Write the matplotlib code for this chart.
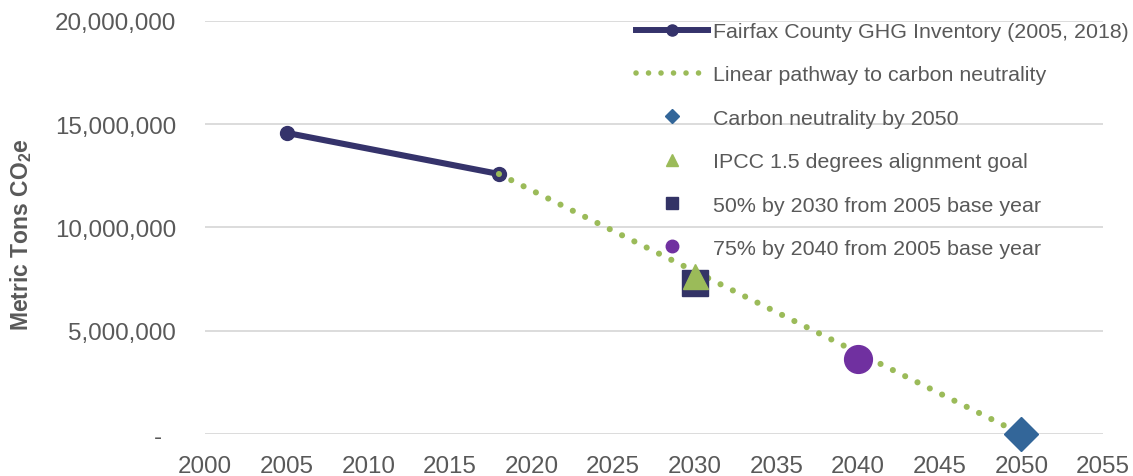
import matplotlib
matplotlib.use("Agg")
import matplotlib.pyplot as plt
from matplotlib.lines import Line2D
from matplotlib.ticker import FuncFormatter

plt.rcParams['font.family'] = ['Liberation Sans', 'DejaVu Sans']

# Data
inv_years = [2005, 2018]
inv_values = [14580000, 12590000]
path_years = [2018, 2050]
path_values = [12590000, 0]
neutral_year = [2050]
neutral_value = [0]
ipcc_year = [2030]
ipcc_value = [7650000]
half_year = [2030]
half_value = [7290000]
q_year = [2040]
q_value = [3645000]

labels = ["Fairfax County GHG Inventory (2005, 2018)",
          "Linear pathway to carbon neutrality",
          "Carbon neutrality by 2050",
          "IPCC 1.5 degrees alignment goal",
          "50% by 2030 from 2005 base year",
          "75% by 2040 from 2005 base year"]

NAVY = '#35336B'
GREEN = '#9BBB59'
BLUE = '#336699'
PURPLE = '#7030A0'
SQ = '#333366'
TXT = '#595959'

fig = plt.figure(figsize=(11.33, 4.77), dpi=100)
ax = fig.add_axes([0.181, 0.088, 0.9735 - 0.181, 0.954 - 0.088])

for s in ax.spines.values():
    s.set_visible(False)
ax.set_xlim(2000, 2055)
ax.set_ylim(0, 20000000)
ax.set_xticks(range(2000, 2056, 5))
ax.set_yticks(range(0, 20000001, 5000000))
ax.yaxis.set_major_formatter(FuncFormatter(lambda v, p: '-  ' if v == 0 else f'{int(v):,}'))
ax.grid(axis='y', color='#D9D9D9', linewidth=1.3)
ax.set_axisbelow(True)
ax.tick_params(length=0, labelsize=17.4, colors=TXT)
ax.tick_params(axis='x', pad=15)
ax.tick_params(axis='y', pad=21)
ax.set_ylabel("Metric Tons CO$_\\mathregular{2}$e", fontsize=16.5, fontweight='bold', color=TXT)
ax.yaxis.set_label_coords(-0.190, 0.485)

DOTS = (0, (0.01, 2.24))
ax.plot(inv_years, inv_values, color=NAVY, linewidth=4.4, marker='o', markersize=10, zorder=3)
ax.plot(path_years, path_values, color=GREEN, linewidth=4.4, linestyle=DOTS,
        dash_capstyle='round', zorder=4)
ax.plot(half_year, half_value, linestyle='none', marker='s', markersize=19, color=SQ, zorder=5)
ax.plot(ipcc_year, ipcc_value, linestyle='none', marker='^', markersize=18, color=GREEN, zorder=6)
ax.plot(q_year, q_value, linestyle='none', marker='o', markersize=20, color=PURPLE, zorder=5)
ax.plot(neutral_year, neutral_value, linestyle='none', marker='D', markersize=17, color=BLUE,
        zorder=5, clip_on=False)

handles = [
    Line2D([], [], color=NAVY, linewidth=4.3, marker='o', markersize=8),
    Line2D([], [], color=GREEN, linewidth=4.0, linestyle=DOTS, dash_capstyle='round'),
    Line2D([], [], linestyle='none', marker='D', markersize=7, color=BLUE),
    Line2D([], [], linestyle='none', marker='^', markersize=9, color=GREEN),
    Line2D([], [], linestyle='none', marker='s', markersize=8, color=SQ),
    Line2D([], [], linestyle='none', marker='o', markersize=9, color=PURPLE),
]
leg = fig.legend(handles, labels, loc='upper left', bbox_to_anchor=(636 / 1133, 1 - 23 / 477),
                 frameon=False, fontsize=15.4, handlelength=3.37, handletextpad=0.23,
                 labelspacing=1.14, borderpad=0, borderaxespad=0, labelcolor=TXT)

fig.savefig('out.png', dpi=100)
